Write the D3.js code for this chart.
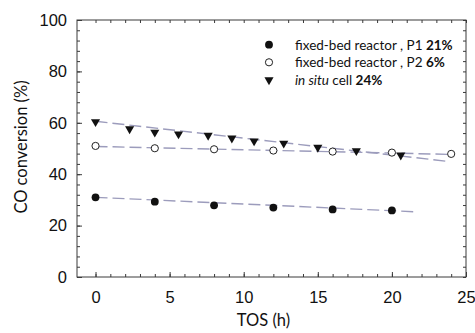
<!DOCTYPE html>
<html>
<head>
<meta charset="utf-8">
<script src="https://cdn.jsdelivr.net/npm/d3@7"></script>
<style>
  html, body { margin: 0; padding: 0; background: #fff; }
  svg { display: block; font-family: Lato, "Open Sans", sans-serif; }
</style>
</head>
<body>
<svg id="chart" width="475" height="333"></svg>
<script>
// Time on stream (h) and CO conversion (%) for each run
const p1Hours = [0, 4, 8, 12, 16, 20];
const p1Conv  = [31.0, 29.3, 27.9, 27.0, 26.3, 25.9];

const p2Hours = [0, 4, 8, 12, 16, 20, 24];
const p2Conv  = [51.0, 50.1, 49.7, 49.2, 48.8, 48.4, 47.9];

const cellHours = [0, 2.3, 4.0, 5.6, 7.6, 9.2, 10.7, 12.7, 15.0, 17.6, 20.6];
const cellConv  = [60.4, 57.6, 56.3, 55.6, 55.1, 54.0, 52.9, 52.0, 50.4, 49.1, 47.4];

// Linear trend lines: [start, end] hours and conversions
const p1FitHours   = [0, 21.5];
const p1FitConv    = [31.0, 25.4];
const p2FitHours   = [0, 24];
const p2FitConv    = [50.8, 47.7];
const cellFitHours = [0, 23.6];
const cellFitConv  = [60.6, 45.1];

// Legend entries
const legendLabels = ["fixed-bed reactor , P1", "fixed-bed reactor , P2", "cell"];
const legendLoss   = ["21%", "6%", "24%"];

const xTicks = [0, 5, 10, 15, 20, 25];
const yTicks = [0, 20, 40, 60, 80, 100];

const svg = d3.select("#chart");
const m = { left: 77, right: 9, top: 20, bottom: 56 };
const W = 475, H = 333;

const x = d3.scaleLinear().domain([-1.25, 25]).range([m.left, W - m.right]);
const y = d3.scaleLinear().domain([0, 100]).range([H - m.bottom, m.top]);

const axisColor = "#3a3a3a";
const fitColor = "#9c9cbc";
const textColor = "#111";

// frame
svg.append("rect")
  .attr("x", x(-1.25)).attr("y", y(100))
  .attr("width", x(25) - x(-1.25)).attr("height", y(0) - y(100))
  .attr("fill", "none").attr("stroke", axisColor).attr("stroke-width", 1);

const minorX = d3.range(0, 26, 1);
const minorY = d3.range(0, 101, 4);

function styleAxis(g) {
  g.select(".domain").remove();
  g.selectAll(".tick line").attr("stroke", axisColor);
  g.selectAll(".tick text").attr("fill", textColor).attr("font-size", 16.5);
}

// bottom axis: labels + inward ticks
svg.append("g").attr("transform", `translate(0,${y(0)})`)
  .call(d3.axisBottom(x).tickValues(minorX).tickSize(-3).tickFormat(""))
  .call(styleAxis);
svg.append("g").attr("transform", `translate(0,${y(0)})`)
  .call(d3.axisBottom(x).tickValues(xTicks).tickSize(-5).tickPadding(14).tickFormat(d3.format("d")))
  .call(styleAxis);
// top ticks
svg.append("g").attr("transform", `translate(0,${y(100)})`)
  .call(d3.axisTop(x).tickValues(minorX).tickSize(-3).tickFormat(""))
  .call(styleAxis);

// left axis
svg.append("g").attr("transform", `translate(${x(-1.25)},0)`)
  .call(d3.axisLeft(y).tickValues(minorY).tickSize(-3).tickFormat(""))
  .call(styleAxis);
svg.append("g").attr("transform", `translate(${x(-1.25)},0)`)
  .call(d3.axisLeft(y).tickValues(yTicks).tickSize(-5).tickPadding(10).tickFormat(d3.format("d")))
  .call(styleAxis);
// right ticks
svg.append("g").attr("transform", `translate(${x(25)},0)`)
  .call(d3.axisRight(y).tickValues(minorY).tickSize(-3).tickFormat(""))
  .call(styleAxis);

// axis titles
svg.append("text")
  .attr("x", 263.5).attr("y", 326)
  .attr("text-anchor", "middle").attr("font-size", 16.5).attr("fill", textColor)
  .text("TOS (h)");
svg.append("text")
  .attr("transform", `translate(27,147) rotate(-90)`)
  .attr("text-anchor", "middle").attr("font-size", 16.5).attr("fill", textColor)
  .text("CO conversion (%)");

// trend lines
const line = d3.line().x(d => x(d[0])).y(d => y(d[1]));
[[p1FitHours, p1FitConv], [p2FitHours, p2FitConv], [cellFitHours, cellFitConv]].forEach(([hs, cs]) => {
  svg.append("path")
    .datum(d3.zip(hs, cs))
    .attr("d", line)
    .attr("fill", "none").attr("stroke", fitColor)
    .attr("stroke-width", 1.4).attr("stroke-dasharray", "12,5");
});

const tri = d3.symbol().type(d3.symbolTriangle).size(36);

// in situ cell: downward triangles
svg.append("g").selectAll("path")
  .data(d3.zip(cellHours, cellConv))
  .join("path")
  .attr("d", tri)
  .attr("transform", d => `translate(${x(d[0])},${y(d[1])}) rotate(180)`)
  .attr("fill", "#111");

// P2: open circles
svg.append("g").selectAll("circle")
  .data(d3.zip(p2Hours, p2Conv))
  .join("circle")
  .attr("cx", d => x(d[0])).attr("cy", d => y(d[1])).attr("r", 3.6)
  .attr("fill", "#fff").attr("stroke", "#222").attr("stroke-width", 1);

// P1: filled circles
svg.append("g").selectAll("circle")
  .data(d3.zip(p1Hours, p1Conv))
  .join("circle")
  .attr("cx", d => x(d[0])).attr("cy", d => y(d[1])).attr("r", 3.9)
  .attr("fill", "#111");

// legend
const lx = 269, ly = [44.7, 62.3, 80.0], tx = 295;
svg.append("circle").attr("cx", lx).attr("cy", ly[0]).attr("r", 3.9).attr("fill", "#111");
svg.append("circle").attr("cx", lx).attr("cy", ly[1]).attr("r", 3.6)
  .attr("fill", "#fff").attr("stroke", "#222").attr("stroke-width", 1);
svg.append("path").attr("d", tri)
  .attr("transform", `translate(${lx},${ly[2]}) rotate(180)`).attr("fill", "#111");

legendLabels.forEach((lab, i) => {
  const t = svg.append("text")
    .attr("x", tx).attr("y", ly[i] + 4.8)
    .attr("font-size", 13.5).attr("fill", textColor);
  if (i === 2) {
    t.append("tspan").attr("font-style", "italic").text("in situ");
    t.append("tspan").text(" " + lab + "  ");
  } else {
    t.append("tspan").text(lab + " ");
  }
  t.append("tspan").attr("font-weight", "bold").text(legendLoss[i]);
});
</script>
</body>
</html>
